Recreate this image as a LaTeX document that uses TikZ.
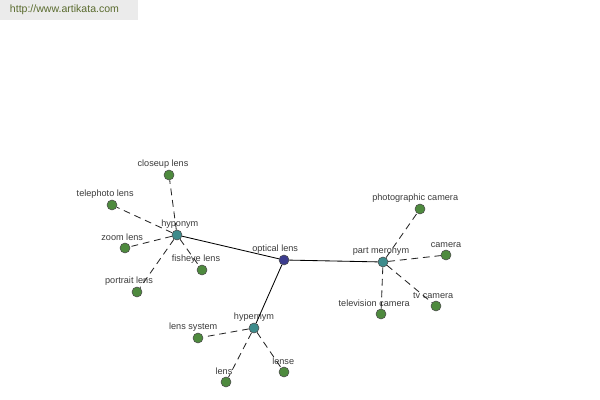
\documentclass[tikz,border=0pt]{standalone}
\usepackage{fontspec}
\setmainfont{Liberation Sans}
\usepackage{xcolor}
\definecolor{leafgreen}{HTML}{4E8A3E}
\definecolor{relteal}{HTML}{3E8C8C}
\definecolor{rootblue}{HTML}{3C3C8E}
\definecolor{labelgrey}{HTML}{3A3A3A}
\definecolor{urlgreen}{HTML}{5A6B2E}

\begin{document}
\begin{tikzpicture}[
            x=0.025cm, y=-0.025cm,
            word/.style 2 args={circle, draw=black!70, thin, minimum size=0.25cm, inner sep=0pt,
                label={[text=labelgrey, font=\fontsize{6.5}{7}\selectfont, inner sep=1pt, label distance=0pt, xshift=#2]above:#1}},
            leaf/.style 2 args={word={#1}{#2}, fill=leafgreen},
            rel/.style 2 args={word={#1}{#2}, fill=relteal},
            link/.style={semithick, draw=black!85, dash pattern=on 0.17cm off 0.12cm}
        ]
            \useasboundingbox (0,0) rectangle (600,400);
            \fill[black!8] (0,0) rectangle (138,20);
            \node[text=urlgreen, font=\fontsize{7.5}{9}\selectfont, anchor=west] (url) at (5,10) {http://www.artikata.com};

            \node[word={optical lens}{-0.22cm}, fill=rootblue] (ol) at (284,260) {};
            \node[rel={hyponym}{0.07cm}] (hypo) at (177,235) {};
            \node[rel={part meronym}{-0.05cm}] (mero) at (383,262) {};
            \node[rel={hypernym}{0cm}] (hyper) at (254,328) {};

            \node[leaf={closeup lens}{-0.15cm}] (closeup) at (169,175) {};
            \node[leaf={telephoto lens}{-0.17cm}] (tele) at (112,205) {};
            \node[leaf={zoom lens}{-0.07cm}] (zoom) at (125,248) {};
            \node[leaf={fisheye lens}{-0.15cm}] (fish) at (202,270) {};
            \node[leaf={portrait lens}{-0.2cm}] (portrait) at (137,292) {};

            \node[leaf={photographic camera}{-0.12cm}] (photo) at (420,209) {};
            \node[leaf={camera}{0cm}] (cam) at (446,255) {};
            \node[leaf={tv camera}{-0.07cm}] (tv) at (436,306) {};
            \node[leaf={television camera}{-0.17cm}] (telev) at (381,314) {};

            \node[leaf={lens system}{-0.12cm}] (lsys) at (198,338) {};
            \node[leaf={lens}{-0.05cm}] (lens) at (226,382) {};
            \node[leaf={lense}{-0.02cm}] (lense) at (284,372) {};

            \draw[semithick] (ol) -- (hypo);
            \draw[semithick] (ol) -- (mero);
            \draw[semithick] (ol) -- (hyper);

            \foreach \n in {closeup, tele, zoom, fish, portrait}
                \draw[link] (hypo) -- (\n);
            \foreach \n in {photo, cam, tv, telev}
                \draw[link] (mero) -- (\n);
            \foreach \n in {lsys, lens, lense}
                \draw[link] (hyper) -- (\n);
        \end{tikzpicture}
\end{document}
